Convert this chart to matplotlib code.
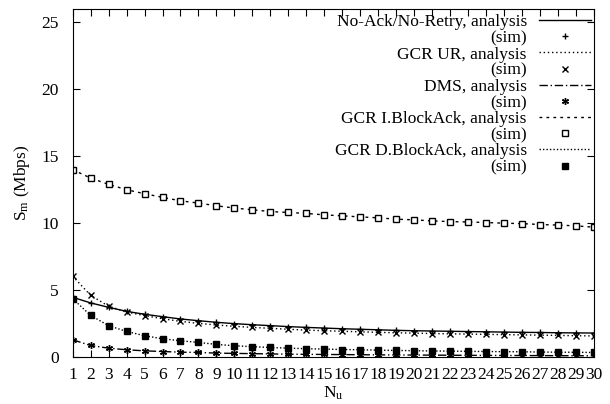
import matplotlib
matplotlib.use("Agg")
import matplotlib.pyplot as plt

plt.rcParams['font.family'] = ['Liberation Serif', 'DejaVu Serif']
plt.rcParams['mathtext.fontset'] = 'custom'
plt.rcParams['mathtext.rm'] = 'Liberation Serif'
plt.rcParams['mathtext.it'] = 'Liberation Serif:italic'

nu = list(range(1, 31))

# No-Ack/No-Retry
noack = [4.47, 4.05, 3.72, 3.42, 3.20, 3.02, 2.85, 2.72, 2.60, 2.50,
         2.42, 2.35, 2.28, 2.22, 2.17, 2.12, 2.08, 2.04, 2.00, 1.97,
         1.95, 1.93, 1.91, 1.89, 1.87, 1.85, 1.84, 1.82, 1.81, 1.80]
# GCR UR
gcr_ur = [6.05, 4.62, 3.80, 3.37, 3.10, 2.87, 2.67, 2.52, 2.40, 2.30,
          2.22, 2.15, 2.08, 2.02, 1.97, 1.93, 1.89, 1.85, 1.82, 1.79,
          1.76, 1.74, 1.72, 1.70, 1.68, 1.66, 1.64, 1.62, 1.60, 1.58]
# DMS
dms = [1.30, 0.87, 0.67, 0.55, 0.47, 0.42, 0.37, 0.35, 0.30, 0.28,
       0.26, 0.24, 0.22, 0.21, 0.20, 0.19, 0.18, 0.17, 0.16, 0.155,
       0.15, 0.14, 0.135, 0.13, 0.125, 0.12, 0.115, 0.11, 0.105, 0.10]
# GCR I.BlockAck
i_back = [14.0, 13.37, 12.9, 12.5, 12.2, 11.93, 11.67, 11.5, 11.3, 11.13,
          11.0, 10.87, 10.8, 10.73, 10.62, 10.55, 10.47, 10.4, 10.3, 10.25,
          10.17, 10.12, 10.09, 10.05, 10.0, 9.97, 9.9, 9.86, 9.8, 9.7]
# GCR D.BlockAck
d_back = [4.37, 3.12, 2.35, 1.92, 1.60, 1.37, 1.22, 1.10, 0.95, 0.85,
          0.78, 0.72, 0.67, 0.63, 0.60, 0.57, 0.55, 0.52, 0.50, 0.48,
          0.46, 0.45, 0.43, 0.42, 0.41, 0.40, 0.38, 0.37, 0.36, 0.35]

fig = plt.figure(figsize=(6.1, 4.04), dpi=100)
ax = fig.add_axes([0.119, 0.116, 0.855, 0.862])

k = dict(color='black', lw=1.0)
ax.plot(nu, noack, '-', label='No-Ack/No-Retry, analysis', **k)
ax.plot(nu, noack, '+', ms=5, mew=1.0, color='black', label='(sim)')
ax.plot(nu, gcr_ur, ls=(0, (1, 2)), label='GCR UR, analysis', **k)
ax.plot(nu, gcr_ur, 'x', ms=4.5, mew=1.0, color='black', label='(sim)')
ax.plot(nu, dms, ls=(0, (6, 2, 1, 2)), label='DMS, analysis', **k)
ax.plot(nu, dms, ls='none', marker=(6, 2, 0), ms=5, mew=1.0, color='black', label='(sim)')
ax.plot(nu, i_back, ls=(0, (2, 3)), label='GCR I.BlockAck, analysis', **k)
ax.plot(nu, i_back, 's', ms=4.5, mew=1.0, mfc='white', mec='black', label='(sim)')
ax.plot(nu, d_back, ls=(0, (1, 1.5)), label='GCR D.BlockAck, analysis', **k)
ax.plot(nu, d_back, 's', ms=4.5, color='black', label='(sim)')

ax.set_xlim(1, 30)
ax.set_ylim(0, 26)
ax.set_xticks(nu)
ax.set_yticks([0, 5, 10, 15, 20, 25])
ax.tick_params(direction='in', top=True, right=True, length=5, labelsize=12.5)
ax.tick_params(axis='x', pad=7)
ax.tick_params(axis='y', pad=10)
ax.set_xlabel('N$_\\mathrm{u}$', fontsize=12.5, labelpad=1)
ax.set_ylabel('S$_\\mathrm{m}$ (Mbps)', fontsize=12.5, labelpad=7)

leg = ax.legend(loc='upper right', bbox_to_anchor=(1.004, 1.0), frameon=False,
                markerfirst=False, fontsize=12.5, handlelength=3.0, handletextpad=0.7,
                labelspacing=0.0, borderaxespad=0.2, borderpad=0.1)

fig.savefig('out.png', dpi=100)
